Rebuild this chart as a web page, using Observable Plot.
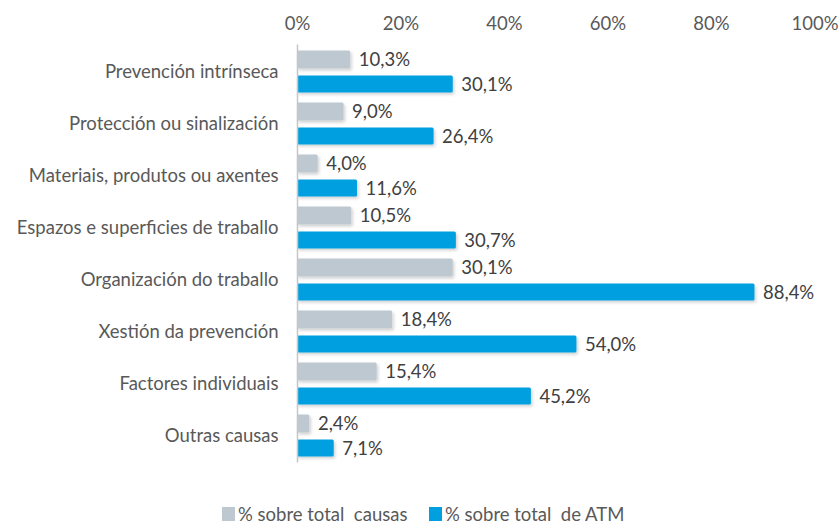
<!DOCTYPE html>
<html>
<head>
<meta charset="utf-8">
<script src="https://cdn.jsdelivr.net/npm/d3@7"></script>
<script src="https://cdn.jsdelivr.net/npm/@observablehq/plot@0.6"></script>
<style>
  html, body { margin: 0; padding: 0; background: #fff; }
  #chart { width: 838px; height: 524px; position: relative; font-family: Lato, sans-serif; }
  .legend { position: absolute; left: 0; top: 503px; width: 838px; height: 22px; font-size: 18.5px; color: #595959; }
  .legend .item { position: absolute; top: 0; display: flex; align-items: center; }
  .legend .sw { width: 13px; height: 14px; margin-right: 3px; }
</style>
</head>
<body>
<div id="chart"></div>
<script>
const categories = [
  "Prevención intrínseca",
  "Protección ou sinalización",
  "Materiais, produtos ou axentes",
  "Espazos e superficies de traballo",
  "Organización do traballo",
  "Xestión da prevención",
  "Factores individuais",
  "Outras causas"
];
const seriesNames = ["% sobre total  causas", "% sobre total  de ATM"];
const causas = [10.3, 9.0, 4.0, 10.5, 30.1, 18.4, 15.4, 2.4];
const atm = [30.1, 26.4, 11.6, 30.7, 88.4, 54.0, 45.2, 7.1];
const xTicks = [0, 20, 40, 60, 80, 100];
const colors = ["#BEC8D0", "#009FDF"];

const fmt = v => v.toFixed(1).replace(".", ",") + "%";
const rowsA = categories.map((c, i) => ({cat: c, v: causas[i]}));
const rowsB = categories.map((c, i) => ({cat: c, v: atm[i]}));

const plot = Plot.plot({
  width: 838,
  height: 494,
  marginTop: 45.5,
  marginBottom: 32.5,
  marginLeft: 297,
  marginRight: 23.5,
  style: {fontFamily: "Lato, sans-serif", fontSize: "18.5px", color: "#595959", background: "#fff"},
  x: {domain: [0, 100], axis: "top", ticks: xTicks, tickFormat: d => d + "%", tickSize: 0, tickPadding: 16, label: null},
  y: {domain: categories, padding: 0, axis: null},
  marks: [
    Plot.barX(rowsA, {x: "v", y: "cat", fill: colors[0], insetTop: 4.5, insetBottom: 29.5, rx: 1.5}),
    Plot.barX(rowsB, {x: "v", y: "cat", fill: colors[1], insetTop: 29.5, insetBottom: 5.5, rx: 1.5}),
    Plot.text(rowsA, {x: "v", y: "cat", text: d => fmt(d.v), dx: 8, dy: -12.5, textAnchor: "start", fill: "#404040", fontSize: 18.5}),
    Plot.text(rowsB, {x: "v", y: "cat", text: d => fmt(d.v), dx: 8, dy: 13, textAnchor: "start", fill: "#404040", fontSize: 18.5}),
    Plot.text(categories, {x: 0, y: d => d, text: d => d, dx: -19, dy: 0, textAnchor: "end", fill: "#595959", fontSize: 18.5}),
    Plot.ruleX([0], {stroke: "#BEC8D0", strokeWidth: 1.5, insetTop: -1, insetBottom: -1})
  ]
});
// subtle drop shadow on bars, like the original
const ns = "http://www.w3.org/2000/svg";
const defs = document.createElementNS(ns, "defs");
defs.innerHTML = '<filter id="sh" x="-5%" y="-30%" width="110%" height="180%"><feDropShadow dx="1.5" dy="2" stdDeviation="1.5" flood-color="#000" flood-opacity="0.18"/></filter>';
plot.insertBefore(defs, plot.firstChild);
plot.querySelectorAll("g[aria-label='bar']").forEach(g => g.setAttribute("filter", "url(#sh)"));
document.getElementById("chart").appendChild(plot);

const legend = document.createElement("div");
legend.className = "legend";
const lefts = [222, 429];
seriesNames.forEach((name, i) => {
  const it = document.createElement("div");
  it.className = "item";
  it.style.left = lefts[i] + "px";
  const sw = document.createElement("div");
  sw.className = "sw";
  sw.style.background = colors[i];
  const t = document.createElement("span");
  t.textContent = name;
  t.style.whiteSpace = "pre";
  it.appendChild(sw); it.appendChild(t);
  legend.appendChild(it);
});
document.getElementById("chart").appendChild(legend);
</script>
</body>
</html>
